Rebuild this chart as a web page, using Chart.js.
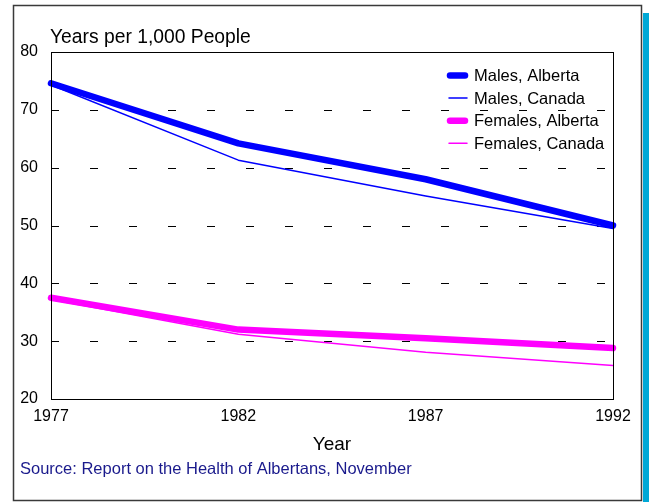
<!DOCTYPE html>
<html>
<head>
<meta charset="utf-8">
<script src="https://cdn.jsdelivr.net/npm/chart.js@4/dist/chart.umd.min.js"></script>
<style>
  html, body { margin: 0; padding: 0; background: #fff; }
  #wrap { width: 649px; height: 502px; }
</style>
</head>
<body>
<div id="wrap"><canvas id="myChart" width="649" height="502"></canvas></div>
<script>
const years = ['1977', '1982', '1987', '1992'];
const malesAlberta = [74.6, 64.2, 58.0, 50.0];
const malesCanada = [74.3, 61.3, 55.1, 49.5];
const femalesAlberta = [37.5, 32.0, 30.5, 28.8];
const femalesCanada = [37.2, 31.2, 28.1, 25.8];
const yTicks = [20, 30, 40, 50, 60, 70, 80];

const FONT = 'Arial, "Liberation Sans", sans-serif';

// frame, dashed grid, box around the plot, title, source line, legend
const decor = {
    id: 'decor',
    beforeDraw(chart) {
        const c = chart.ctx;
        c.save();
        c.fillStyle = '#00a8d6';
        c.fillRect(643, 13, 6, 489);
        c.strokeStyle = '#3a3a3a';
        c.lineWidth = 1.5;
        c.strokeRect(13.5, 5.5, 628, 495);
        c.restore();
    },
    beforeDatasetsDraw(chart) {
        const c = chart.ctx;
        const a = chart.chartArea;
        const y = chart.scales.y;
        c.save();
        c.strokeStyle = '#000';
        c.lineWidth = 1;
        c.setLineDash([8, 31]);
        c.lineDashOffset = 0;
        yTicks.forEach(v => {
            if (v === 20) return;
            const py = Math.round(y.getPixelForValue(v)) + 0.5;
            c.beginPath();
            c.moveTo(Math.round(a.left), py);
            c.lineTo(a.right, py);
            c.stroke();
        });
        c.restore();
    },
    afterDraw(chart) {
        const c = chart.ctx;
        const a = chart.chartArea;
        c.save();
        c.strokeStyle = '#000';
        c.lineWidth = 1;
        c.strokeRect(Math.round(a.left) + 0.5, Math.round(a.top) + 0.5, Math.round(a.right - a.left), Math.round(a.bottom - a.top));

        c.fillStyle = '#000';
        c.textBaseline = 'middle';
        c.font = '19.3px ' + FONT;
        c.fillText('Years per 1,000 People', 50, 38);

        c.fillStyle = '#1a1a8c';
        c.font = '16.5px ' + FONT;
        c.fillText('Source: Report on the Health of Albertans, November', 20, 469);

        // legend
        c.font = '16.5px ' + FONT;
        chart.data.datasets.forEach((ds, i) => {
            const ly = 75.5 + i * 22.6;
            c.strokeStyle = ds.borderColor;
            c.lineWidth = ds.borderWidth;
            c.lineCap = 'round';
            c.beginPath();
            c.moveTo(ds.borderWidth > 3 ? 450 : 449, ly);
            c.lineTo(ds.borderWidth > 3 ? 465 : 467, ly);
            c.stroke();
            c.fillStyle = '#000';
            c.fillText(ds.label, 474, ly + 1);
        });
        c.restore();
    }
};

const ctx = document.getElementById('myChart').getContext('2d');
const myChart = new Chart(ctx, {
    type: 'line',
    data: {
        labels: years,
        datasets: [
            { label: 'Males, Alberta', data: malesAlberta, borderColor: '#0000ff', borderWidth: 6.5 },
            { label: 'Males, Canada', data: malesCanada, borderColor: '#0000ff', borderWidth: 1.5 },
            { label: 'Females, Alberta', data: femalesAlberta, borderColor: '#ff00ff', borderWidth: 6.5 },
            { label: 'Females, Canada', data: femalesCanada, borderColor: '#ff00ff', borderWidth: 1.5 }
        ]
    },
    options: {
        responsive: false,
        animation: false,
        layout: { padding: { left: 0, right: 36, top: 52, bottom: 43 } },
        elements: {
            point: { radius: 0 },
            line: { tension: 0, borderCapStyle: 'round', borderJoinStyle: 'round', fill: false }
        },
        datasets: { line: { clip: false } },
        plugins: {
            legend: { display: false },
            tooltip: { enabled: false }
        },
        scales: {
            x: {
                offset: false,
                grid: { display: false, drawTicks: false },
                border: { display: false },
                ticks: { color: '#000', font: { family: FONT, size: 16 }, padding: 8, maxRotation: 0 },
                title: { display: true, text: 'Year', color: '#000', font: { family: FONT, size: 19 }, padding: { top: 0, bottom: 3 } },
                afterFit(scale) { scale.height = 60; }
            },
            y: {
                min: 20,
                max: 80,
                afterBuildTicks(scale) { scale.ticks = yTicks.map(v => ({ value: v })); },
                grid: { display: false, drawTicks: false },
                border: { display: false },
                ticks: { color: '#000', font: { family: FONT, size: 16 }, padding: 13 },
                afterFit(scale) { scale.width = 51; }
            }
        }
    },
    plugins: [decor]
});
</script>
</body>
</html>
